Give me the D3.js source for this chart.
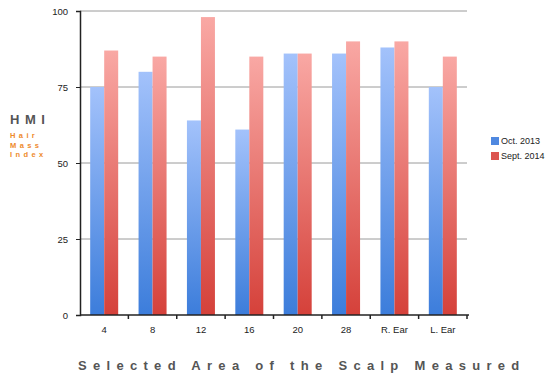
<!DOCTYPE html>
<html>
<head>
<meta charset="utf-8">
<script src="https://d3js.org/d3.v7.min.js"></script>
<style>
  body { margin: 0; background: #fff; }
  svg { font-family: "Liberation Sans", Arial, sans-serif; }
</style>
</head>
<body>
<svg id="chart" width="558" height="390"></svg>
<script>
// data
const areas = ["4", "8", "12", "16", "20", "28", "R. Ear", "L. Ear"];
const oct2013 = [75, 80, 64, 61, 86, 86, 88, 75];
const sept2014 = [87, 85, 98, 85, 86, 90, 90, 85];
const seriesNames = ["Oct. 2013", "Sept. 2014"];
const yTicks = [0, 25, 50, 75, 100];

const svg = d3.select("#chart");
const plotLeft = 80, plotRight = 467, plotTop = 11, plotBottom = 315;

const x = d3.scaleBand().domain(areas).range([plotLeft, plotRight]).padding(0);
const y = d3.scaleLinear().domain([0, 100]).range([plotBottom, plotTop]);
const barW = 14;

// gradients
const defs = svg.append("defs");
function grad(id, topCol, botCol) {
  let g = defs.append("linearGradient").attr("id", id)
    .attr("x1", 0).attr("y1", 0).attr("x2", 0).attr("y2", 1);
  g.append("stop").attr("offset", "0%").attr("stop-color", topCol);
  g.append("stop").attr("offset", "100%").attr("stop-color", botCol);
}
grad("gBlue", "#a3c2fb", "#3c7ddb");
grad("gRed", "#f9a8a4", "#d5413a");

// grid lines
svg.append("g").selectAll("line").data(yTicks.filter(d => d > 0)).join("line")
  .attr("x1", plotLeft).attr("x2", plotRight)
  .attr("y1", d => y(d)).attr("y2", d => y(d))
  .attr("stroke", "#9a9a9a").attr("stroke-width", 1);

// bars
const bars = svg.append("g");
areas.forEach((a, i) => {
  let c = x(a) + x.bandwidth() / 2;
  bars.append("rect")
    .attr("x", c - barW).attr("width", barW)
    .attr("y", y(oct2013[i])).attr("height", y(0) - y(oct2013[i]))
    .attr("fill", "url(#gBlue)");
  bars.append("rect")
    .attr("x", c).attr("width", barW)
    .attr("y", y(sept2014[i])).attr("height", y(0) - y(sept2014[i]))
    .attr("fill", "url(#gRed)");
});

// y axis
const yAxis = svg.append("g").attr("transform", `translate(${plotLeft},0)`)
  .call(d3.axisLeft(y).tickValues(yTicks).tickSize(4).tickPadding(8));
yAxis.select(".domain").attr("stroke", "#222").attr("stroke-width", 1.5);
yAxis.selectAll(".tick line").attr("stroke", "#222");
yAxis.selectAll("text").attr("font-size", 9.5).attr("fill", "#222");

// x axis: ticks at band boundaries
const xAxis = svg.append("g").attr("transform", `translate(0,${plotBottom})`);
xAxis.append("line").attr("x1", plotLeft).attr("x2", plotRight + 2)
  .attr("stroke", "#222").attr("stroke-width", 1.5);
xAxis.selectAll(".bt").data(areas).join("line").attr("class", "bt")
  .attr("x1", d => x(d) + x.bandwidth()).attr("x2", d => x(d) + x.bandwidth())
  .attr("y1", 0).attr("y2", 4).attr("stroke", "#222").attr("stroke-width", 1.5);
xAxis.selectAll("text").data(areas).join("text")
  .attr("x", d => x(d) + x.bandwidth() / 2).attr("y", 18)
  .attr("text-anchor", "middle").attr("font-size", 9.5).attr("fill", "#222")
  .text(d => d);

// left title
svg.append("text").attr("x", 10).attr("y", 124)
  .attr("font-size", 13).attr("font-weight", "bold").attr("fill", "#555")
  .attr("letter-spacing", 5.5).text("HMI");
["Hair", "Mass", "Index"].forEach((t, i) => {
  svg.append("text").attr("x", 10).attr("y", 138 + i * 9.7)
    .attr("font-size", 7.5).attr("font-weight", "bold").attr("fill", "#ee8a2c")
    .attr("letter-spacing", 3.4).text(t);
});

// legend
const legend = svg.append("g").attr("transform", "translate(491,141)");
["#4f88e0", "#dc5550"].forEach((col, i) => {
  legend.append("rect").attr("x", 0).attr("y", i * 15 - 4).attr("width", 8).attr("height", 8)
    .attr("fill", col);
  legend.append("text").attr("x", 10).attr("y", i * 15 + 3)
    .attr("font-size", 9).attr("fill", "#222").text(seriesNames[i]);
});

// bottom title
svg.append("text").attr("x", 78).attr("y", 370)
  .attr("font-size", 13).attr("font-weight", "bold").attr("fill", "#555")
  .attr("letter-spacing", 6.3).text("Selected Area of the Scalp Measured");
</script>
</body>
</html>
